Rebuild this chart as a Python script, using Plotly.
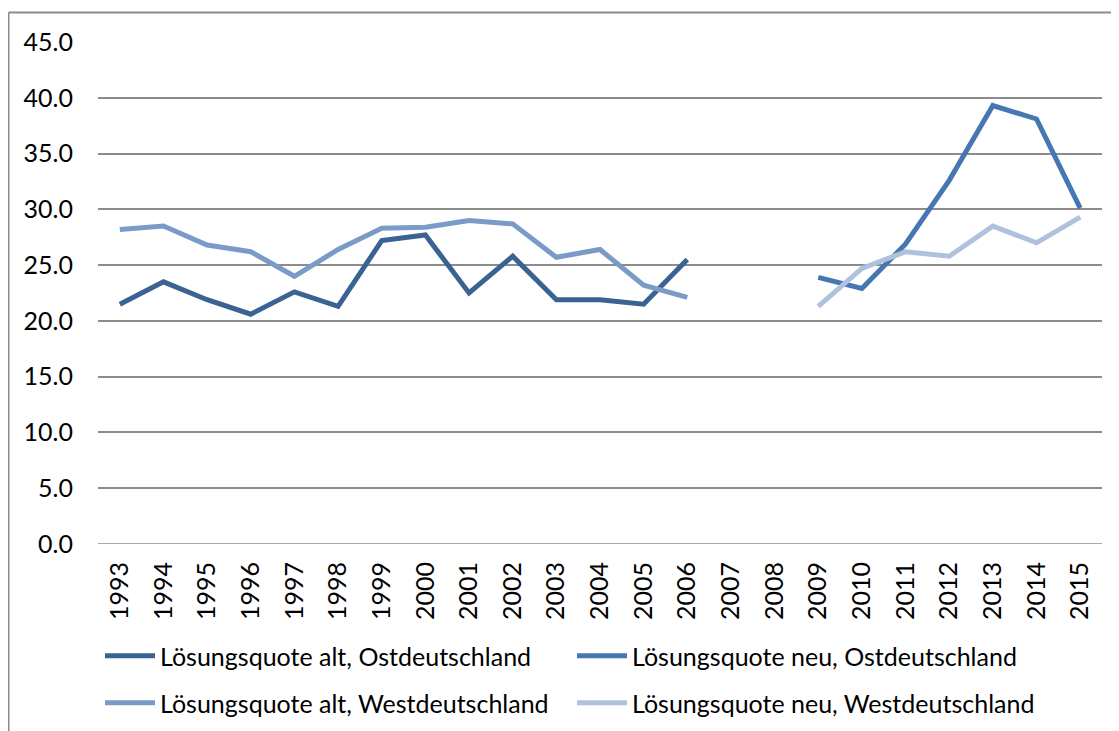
import plotly.graph_objects as go

years = [str(y) for y in range(1993, 2016)]

alt_ost = [21.5, 23.5, 21.9, 20.6, 22.6, 21.3, 27.2, 27.7, 22.5, 25.8, 21.9, 21.9, 21.5, 25.5,
           None, None, None, None, None, None, None, None, None]
alt_west = [28.2, 28.5, 26.8, 26.2, 24.0, 26.4, 28.3, 28.4, 29.0, 28.7, 25.7, 26.4, 23.2, 22.1,
            None, None, None, None, None, None, None, None, None]
neu_ost = [None] * 16 + [23.9, 22.9, 26.9, 32.6, 39.3, 38.1, 30.1]
neu_west = [None] * 16 + [21.3, 24.7, 26.2, 25.8, 28.5, 27.0, 29.3]

names = ["Lösungsquote alt, Ostdeutschland", "Lösungsquote neu, Ostdeutschland",
         "Lösungsquote alt, Westdeutschland", "Lösungsquote neu, Westdeutschland"]
series = [alt_ost, neu_ost, alt_west, neu_west]
colors = ["#3a6394", "#4677b2", "#7a9bc8", "#afc1dc"]
legends = ["legend", "legend", "legend2", "legend2"]

FONT = "Lato, Open Sans, sans-serif"
W, H = 1111, 723          # page body has an 8px margin
L, R, T, B = 90, 17, 34, 187
PW, PH = W - L - R, H - T - B

fig = go.Figure()
for name, vals, col, lg in zip(names, series, colors, legends):
    fig.add_trace(go.Scatter(x=years, y=vals, name=name, mode="lines",
                             line=dict(color=col, width=5), connectgaps=False,
                             legend=lg))

leg_common = dict(orientation="h", xref="container", xanchor="left", yref="container",
                  yanchor="middle", entrywidth=407, font=dict(size=25),
                  traceorder="normal", bgcolor="rgba(0,0,0,0)", itemwidth=50)

fig.update_layout(
    width=W, height=H,
    margin=dict(l=L, r=R, t=T, b=B),
    paper_bgcolor="white", plot_bgcolor="white",
    font=dict(family=FONT, size=25, color="black"),
    xaxis=dict(type="category", range=[-0.5, 22.5], showgrid=False, tickangle=-90,
               tickfont=dict(size=25), showline=False, zeroline=False, ticks="",
               ticklabelstandoff=12),
    yaxis=dict(range=[0, 45], dtick=5, tickformat=".1f", showgrid=True,
               gridcolor="#8c8c8c", gridwidth=1.5, zeroline=False, showline=False,
               tickfont=dict(size=25), ticklabelstandoff=24),
    legend=dict(x=92 / W, y=1 - 648 / H, **leg_common),
    legend2=dict(x=92 / W, y=1 - 695 / H, **leg_common),
    showlegend=True,
)
# baseline gridline at 0 (same style as grid)
fig.add_shape(type="line", xref="paper", yref="y", x0=0, x1=1, y0=0, y1=0,
              line=dict(color="#8c8c8c", width=1.5), layer="below")
# outer chart border (top and left edges visible)
bx = (0.5 - L) / PW
by = (H - B - 4.5) / PH
fig.add_shape(type="line", xref="paper", yref="paper", x0=bx, x1=1.2, y0=by, y1=by,
              line=dict(color="#8c8c8c", width=2))
fig.add_shape(type="line", xref="paper", yref="paper", x0=bx, x1=bx, y0=by, y1=-0.6,
              line=dict(color="#8c8c8c", width=2))

fig.write_html("out.html")
